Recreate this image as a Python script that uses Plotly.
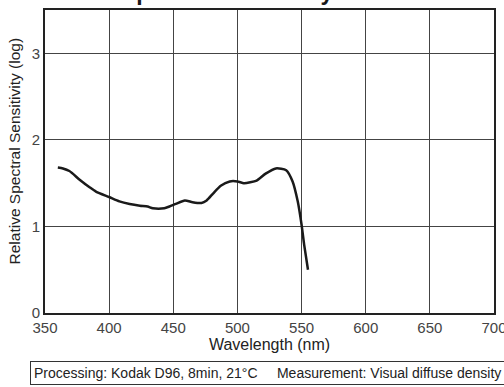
import plotly.graph_objects as go

wavelength = [360, 364, 369, 377, 385, 390, 400, 408, 416, 424, 430, 434, 443, 447, 452, 459,
              465, 472, 476, 481, 487, 494, 500, 505, 510, 515, 522, 530, 538, 543, 547, 550, 552, 555]
sensitivity = [1.68, 1.67, 1.64, 1.54, 1.45, 1.40, 1.34, 1.29, 1.26, 1.24, 1.23, 1.21, 1.21, 1.23, 1.26, 1.30,
               1.28, 1.27, 1.30, 1.38, 1.47, 1.52, 1.52, 1.50, 1.51, 1.53, 1.61, 1.67, 1.65, 1.52, 1.29, 1.02, 0.79, 0.50]

x_ticks = [350, 400, 450, 500, 550, 600, 650, 700]
y_ticks = [0, 1, 2, 3]

title_text = "Spectral Sensitivity Curves"
x_title = "Wavelength (nm)"
y_title = "Relative Spectral Sensitivity (log)"
note_text = "Processing: Kodak D96, 8min, 21°C     Measurement: Visual diffuse density"

font_family = "Liberation Sans, Arial, sans-serif"

fig = go.Figure()
fig.add_trace(go.Scatter(
    x=wavelength, y=sensitivity, mode="lines",
    line=dict(color="#1a1a1a", width=2.5, shape="spline", smoothing=0.6),
    showlegend=False, hoverinfo="skip",
))

fig.update_layout(
    width=504, height=387,
    margin=dict(l=45, r=10, t=10, b=74),
    paper_bgcolor="white", plot_bgcolor="white",
    font=dict(family=font_family, color="#333333", size=15),
    xaxis=dict(range=[350, 700], tickvals=x_ticks, ticks="", showgrid=True,
               gridcolor="#444444", gridwidth=1, zeroline=False, automargin=False,
               ticklabeloverflow="allow",
               showline=True, linecolor="#222222", linewidth=2, mirror=True,
               title=dict(text=x_title, standoff=0, font=dict(size=16, color="#222222")),
               tickfont=dict(size=15, color="#444444")),
    yaxis=dict(range=[0, 3.5], tickvals=y_ticks, ticks="", showgrid=True,
               gridcolor="#444444", gridwidth=1, zeroline=False, automargin=False,
               ticklabeloverflow="allow",
               showline=True, linecolor="#222222", linewidth=2, mirror=True,
               tickfont=dict(size=15, color="#444444")),
)

# y-axis title (placed slightly above the domain centre as in the reference)
fig.add_annotation(
    text=y_title, xref="paper", yref="paper", x=0, y=0.5, xshift=-31, yshift=10,
    xanchor="center", yanchor="middle", textangle=-90, showarrow=False,
    font=dict(size=15.5, color="#222222", family=font_family),
)

# chart title, mostly cut off at the top edge as in the reference
fig.add_annotation(
    text="<b>" + title_text + "</b>", xref="paper", yref="paper", x=0.5, y=1,
    xanchor="center", yanchor="middle", yshift=18, showarrow=False,
    font=dict(size=23, color="#1a1a1a", family=font_family),
)

fig.add_annotation(
    text=note_text, xref="paper", yref="paper", x=-0.0334, y=-0.158,
    xanchor="left", yanchor="top", showarrow=False, align="left",
    font=dict(size=14, color="#222222", family=font_family),
    bordercolor="#333333", borderwidth=1, borderpad=3, bgcolor="white",
)

fig.write_html("out.html", config={"displayModeBar": False},
               post_script="document.body.style.margin='0';")
